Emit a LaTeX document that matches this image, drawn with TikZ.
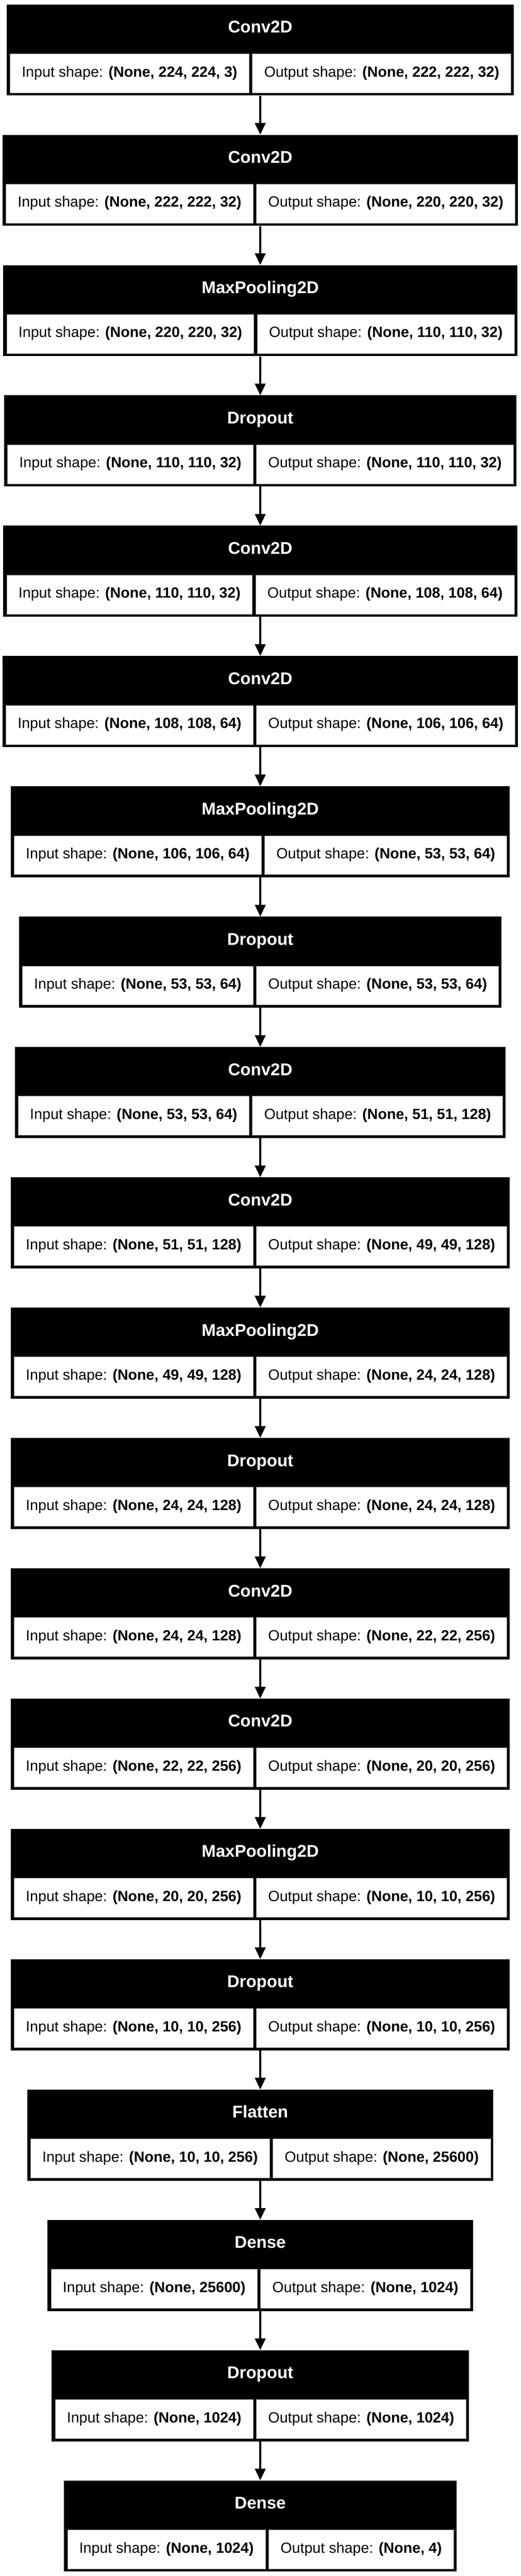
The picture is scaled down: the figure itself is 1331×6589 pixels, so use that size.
\documentclass[tikz,border=0pt]{standalone}
\usepackage{fontspec}
\setmainfont{Liberation Sans}
\usetikzlibrary{arrows.meta,calc}
\newlength\wA
\newlength\wB
\newcommand\cellfont{\fontsize{37.75}{45}\selectfont}
\newcommand\headfont{\fontsize{43.5}{52}\selectfont\bfseries}
\tikzset{
  outerbox/.style={fill=black, draw=none, inner sep=0pt, minimum height=233pt},
  cellbox/.style={fill=white, draw=black!45, line width=1pt, inner sep=0pt, minimum height=100pt},
  celltext/.style={inner sep=0pt, font=\cellfont, text=black},
  headtext/.style={inner sep=0pt, font=\headfont, text=white},
  conn/.style={line width=5pt, -{Triangle[length=30pt,width=27pt]}},
}
% measure texts outside the picture, store widths
\newcommand\deflayer[4]{%
  \settowidth\wA{\cellfont Input shape: \textbf{#3}}%
  \settowidth\wB{\cellfont Output shape: \textbf{#4}}%
  \expandafter\xdef\csname wA#1\endcsname{\the\wA}%
  \expandafter\xdef\csname wB#1\endcsname{\the\wB}%
  \expandafter\gdef\csname ttl#1\endcsname{#2}%
  \expandafter\gdef\csname inp#1\endcsname{#3}%
  \expandafter\gdef\csname outp#1\endcsname{#4}%
}
\newcommand\drawlayer[2]{%
  \pgfmathsetmacro\cwA{\csname wA#1\endcsname+60}%
  \pgfmathsetmacro\cwB{\csname wB#1\endcsname+60}%
  \pgfmathsetmacro\tot{\cwA+\cwB+8.5+8.5+7.5}%
  \pgfmathsetmacro\yt{-11.2-333.33*#2}%
  \node[outerbox, minimum width=\tot pt, anchor=north] (#1) at (665.5,\yt) {};
  \node[cellbox, minimum width=\cwA pt, anchor=south west] (#1a) at ($(#1.south west)+(8.5,6.7)$) {};
  \node[cellbox, minimum width=\cwB pt, anchor=south west] (#1b) at ($(#1a.south east)+(7.5,0)$) {};
  \node[headtext, anchor=base] (#1h) at ($(#1.north)+(0,-72.7)$) {\csname ttl#1\endcsname};
  \node[celltext, anchor=base] (#1at) at ($(#1a.center)+(0,-9)$) {Input shape: \textbf{\csname inp#1\endcsname}};
  \node[celltext, anchor=base] (#1bt) at ($(#1b.center)+(0,-9)$) {Output shape: \textbf{\csname outp#1\endcsname}};
}
\begin{document}
\deflayer{L0}{Conv2D}{(None, 224, 224, 3)}{(None, 222, 222, 32)}%
\deflayer{L1}{Conv2D}{(None, 222, 222, 32)}{(None, 220, 220, 32)}%
\deflayer{L2}{MaxPooling2D}{(None, 220, 220, 32)}{(None, 110, 110, 32)}%
\deflayer{L3}{Dropout}{(None, 110, 110, 32)}{(None, 110, 110, 32)}%
\deflayer{L4}{Conv2D}{(None, 110, 110, 32)}{(None, 108, 108, 64)}%
\deflayer{L5}{Conv2D}{(None, 108, 108, 64)}{(None, 106, 106, 64)}%
\deflayer{L6}{MaxPooling2D}{(None, 106, 106, 64)}{(None, 53, 53, 64)}%
\deflayer{L7}{Dropout}{(None, 53, 53, 64)}{(None, 53, 53, 64)}%
\deflayer{L8}{Conv2D}{(None, 53, 53, 64)}{(None, 51, 51, 128)}%
\deflayer{L9}{Conv2D}{(None, 51, 51, 128)}{(None, 49, 49, 128)}%
\deflayer{L10}{MaxPooling2D}{(None, 49, 49, 128)}{(None, 24, 24, 128)}%
\deflayer{L11}{Dropout}{(None, 24, 24, 128)}{(None, 24, 24, 128)}%
\deflayer{L12}{Conv2D}{(None, 24, 24, 128)}{(None, 22, 22, 256)}%
\deflayer{L13}{Conv2D}{(None, 22, 22, 256)}{(None, 20, 20, 256)}%
\deflayer{L14}{MaxPooling2D}{(None, 20, 20, 256)}{(None, 10, 10, 256)}%
\deflayer{L15}{Dropout}{(None, 10, 10, 256)}{(None, 10, 10, 256)}%
\deflayer{L16}{Flatten}{(None, 10, 10, 256)}{(None, 25600)}%
\deflayer{L17}{Dense}{(None, 25600)}{(None, 1024)}%
\deflayer{L18}{Dropout}{(None, 1024)}{(None, 1024)}%
\deflayer{L19}{Dense}{(None, 1024)}{(None, 4)}%
\begin{tikzpicture}[x=1pt,y=1pt]
\useasboundingbox (0,0) rectangle (1331,-6589);
\fill[white] (0,0) rectangle (1331,-6589);
\foreach \k in {0,...,19}
  \drawlayer{L\k}{\k};
\foreach \i [evaluate=\i as \j using int(\i+1)] in {0,...,18}
  \draw[conn] (L\i.south) -- (L\j.north);
\end{tikzpicture}
\end{document}
